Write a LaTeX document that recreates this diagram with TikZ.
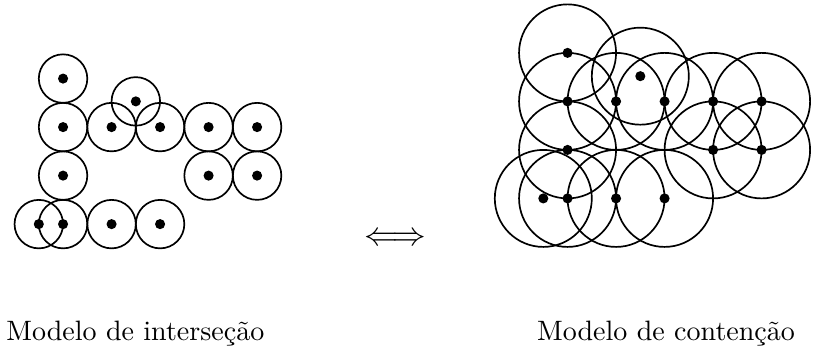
\documentclass[tikz,border=0pt]{standalone}
\usepackage{fontspec}
\usepackage{amsmath,amssymb}
\usepackage{tikz}
\usetikzlibrary{positioning}
\tikzset{
  udg/.style={
    x=17.3pt, y=17.3pt,
    line width=0.6pt,
    every node/.style={font=\normalsize}
  },
  dot/.style={                     % vertex of the graph
    circle, fill=black, draw=none,
    inner sep=0pt, minimum size=3.6pt
  },
  disk/.style={draw=black, line width=0.6pt},
  modellabel/.style={anchor=base, inner sep=0pt}
}

\begin{document}
\begin{tikzpicture}[udg]
\useasboundingbox (-1.30,-4.68) rectangle (15.46,2.62);

% Intersection model: disks of radius 1/2 around each vertex
\foreach \x/\y [count=\i] in {0/1, 0/0, 1/0, 1.5/0.53, 2/0, 3/0, 4/0,
    0/-1, 3/-1, 4/-1, -0.5/-2, 0/-2, 1/-2, 2/-2}{
  \node[dot] (l\i) at (\x,\y) {};
  \draw[disk] (l\i) circle[radius=0.5];
}

% Containment model: the same vertices, disks of radius 1
\begin{scope}[shift={(10.40,0.53)}]
\foreach \x/\y [count=\i] in {0/1, 0/0, 1/0, 1.5/0.52, 2/0, 3/0, 4/0,
    0/-1, 3/-1, 4/-1, -0.5/-2, 0/-2, 1/-2, 2/-2}{
  \node[dot] (r\i) at (\x,\y) {};
  \draw[disk] (r\i) circle[radius=1];
}
\end{scope}

% Equivalence arrow
\node[font=\fontsize{13.2}{16}\selectfont] (equiv) at (6.85,-2.31) {$\Longleftrightarrow$};

% Captions
\node[modellabel] (lcap) at (1.49,-4.39) {Modelo de interseção};
\node[modellabel] (rcap) at (12.43,-4.39) {Modelo de contenção};

\end{tikzpicture}
\end{document}
